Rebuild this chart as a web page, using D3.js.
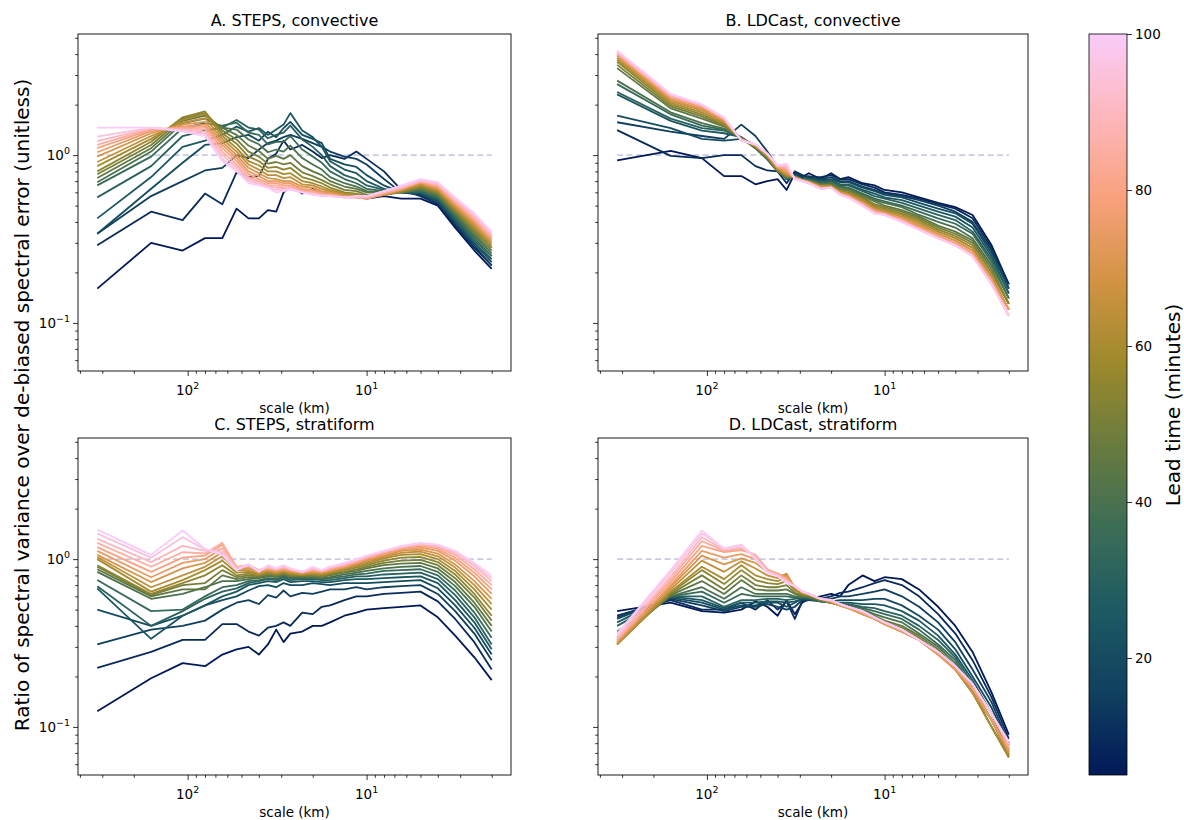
<!DOCTYPE html>
<html>
<head>
<meta charset="utf-8">
<script src="https://cdn.jsdelivr.net/npm/d3@7"></script>
<style>
  body { margin: 0; background: #fff; }
  svg { font-family: "DejaVu Sans", sans-serif; }
</style>
</head>
<body>
<div id="chart"></div>
<script>
// spatial scale (km) of each spectral bin
const scaleKm = [320, 160, 106.7, 80, 64, 53.3, 45.7, 40, 35.6, 32, 29.1, 26.7, 22.9, 20, 17.8, 16, 13.3, 11.4, 10, 8, 6.4, 5, 4, 3.2, 2.5, 2];

const leadTimes = [5, 10, 15, 20, 25, 30, 35, 40, 45, 50, 55, 60, 65, 70, 75, 80, 85, 90, 95, 100];

// one row per lead time, one value per scale
const stepsConvective = [
  [0.16,0.30,0.27,0.32,0.32,0.48,0.42,0.42,0.47,0.46,0.60,0.65,0.59,0.63,0.58,0.60,0.57,0.58,0.55,0.57,0.55,0.55,0.50,0.37,0.27,0.21],
  [0.29,0.46,0.41,0.59,0.51,0.79,0.74,0.75,0.95,1.02,1.22,1.08,1.15,1.05,0.96,1.00,0.95,1.05,0.95,0.80,0.62,0.57,0.51,0.38,0.28,0.22],
  [0.34,0.57,0.70,0.81,0.84,1.00,0.96,1.08,1.18,1.22,1.28,1.32,1.25,1.18,1.12,1.05,0.98,0.95,0.88,0.72,0.60,0.58,0.52,0.39,0.29,0.22],
  [0.34,0.63,0.90,1.15,1.18,1.28,1.32,1.22,1.38,1.28,1.45,1.58,1.32,1.25,1.18,0.95,0.88,0.85,0.76,0.66,0.60,0.59,0.53,0.40,0.30,0.23],
  [0.42,0.74,1.12,1.22,1.32,1.48,1.38,1.45,1.32,1.42,1.52,1.78,1.40,1.28,1.12,0.92,0.82,0.78,0.70,0.63,0.60,0.60,0.54,0.41,0.30,0.24],
  [0.56,0.86,1.30,1.40,1.46,1.62,1.46,1.42,1.26,1.32,1.36,1.50,1.24,1.12,1.00,0.86,0.76,0.72,0.66,0.62,0.60,0.60,0.55,0.42,0.31,0.25],
  [0.66,0.98,1.45,1.55,1.50,1.56,1.36,1.32,1.16,1.20,1.20,1.30,1.08,0.98,0.90,0.80,0.72,0.68,0.63,0.61,0.60,0.61,0.56,0.43,0.32,0.25],
  [0.69,1.05,1.55,1.65,1.46,1.42,1.24,1.16,1.04,1.08,1.05,1.14,0.96,0.88,0.82,0.74,0.68,0.65,0.61,0.60,0.60,0.62,0.57,0.44,0.33,0.26],
  [0.73,1.10,1.60,1.72,1.45,1.32,1.14,1.06,0.95,0.99,0.95,1.00,0.86,0.80,0.76,0.70,0.65,0.63,0.60,0.59,0.60,0.63,0.58,0.45,0.34,0.27],
  [0.77,1.15,1.65,1.78,1.40,1.24,1.05,0.98,0.89,0.91,0.88,0.90,0.79,0.75,0.71,0.67,0.62,0.61,0.58,0.58,0.60,0.64,0.59,0.46,0.35,0.28],
  [0.80,1.20,1.68,1.82,1.35,1.17,0.98,0.92,0.84,0.85,0.82,0.84,0.74,0.71,0.68,0.64,0.60,0.59,0.57,0.58,0.61,0.65,0.60,0.47,0.36,0.28],
  [0.86,1.25,1.62,1.76,1.30,1.10,0.92,0.87,0.80,0.80,0.77,0.78,0.70,0.68,0.65,0.62,0.59,0.58,0.56,0.58,0.61,0.66,0.61,0.48,0.37,0.29],
  [0.91,1.30,1.56,1.66,1.25,1.05,0.88,0.82,0.76,0.76,0.73,0.74,0.67,0.66,0.63,0.61,0.58,0.57,0.56,0.58,0.62,0.67,0.62,0.49,0.38,0.30],
  [0.98,1.35,1.52,1.58,1.20,1.00,0.84,0.78,0.73,0.72,0.70,0.70,0.65,0.64,0.61,0.60,0.57,0.56,0.55,0.58,0.62,0.68,0.63,0.50,0.39,0.31],
  [1.04,1.39,1.48,1.52,1.15,0.96,0.80,0.75,0.70,0.70,0.68,0.68,0.63,0.62,0.60,0.59,0.57,0.56,0.55,0.59,0.63,0.69,0.64,0.51,0.40,0.31],
  [1.10,1.42,1.46,1.48,1.10,0.92,0.77,0.72,0.68,0.68,0.66,0.66,0.62,0.61,0.59,0.58,0.56,0.56,0.55,0.59,0.63,0.69,0.65,0.52,0.41,0.32],
  [1.15,1.44,1.44,1.43,1.05,0.88,0.74,0.70,0.66,0.66,0.64,0.65,0.61,0.60,0.58,0.58,0.56,0.56,0.56,0.60,0.64,0.70,0.66,0.53,0.42,0.33],
  [1.21,1.45,1.42,1.38,1.00,0.85,0.72,0.68,0.65,0.64,0.63,0.64,0.60,0.59,0.58,0.57,0.56,0.56,0.56,0.60,0.64,0.70,0.67,0.54,0.43,0.33],
  [1.29,1.46,1.40,1.34,0.95,0.82,0.70,0.67,0.64,0.62,0.62,0.63,0.60,0.59,0.57,0.57,0.56,0.57,0.57,0.61,0.65,0.71,0.68,0.55,0.44,0.34],
  [1.46,1.46,1.38,1.30,0.92,0.80,0.68,0.66,0.64,0.60,0.61,0.62,0.60,0.58,0.57,0.57,0.56,0.57,0.57,0.61,0.66,0.72,0.69,0.56,0.45,0.35]
];

const ldcastConvective = [
  [0.93,1.06,0.96,0.75,0.75,0.67,0.70,0.72,0.62,0.78,0.74,0.78,0.72,0.78,0.72,0.74,0.68,0.66,0.62,0.60,0.56,0.52,0.49,0.44,0.29,0.17],
  [1.41,0.99,0.96,1.00,1.00,0.86,0.81,0.80,0.68,0.80,0.76,0.74,0.74,0.76,0.72,0.72,0.67,0.64,0.60,0.58,0.55,0.51,0.48,0.42,0.28,0.17],
  [1.57,1.38,1.30,1.25,1.52,1.30,1.05,0.85,0.75,0.78,0.74,0.75,0.72,0.74,0.70,0.70,0.65,0.62,0.59,0.57,0.54,0.50,0.46,0.40,0.27,0.16],
  [1.72,1.45,1.25,1.22,1.25,1.15,0.95,0.82,0.72,0.76,0.73,0.73,0.71,0.72,0.69,0.69,0.64,0.61,0.58,0.56,0.52,0.48,0.45,0.39,0.26,0.16],
  [2.30,1.60,1.40,1.35,1.28,1.12,0.95,0.82,0.72,0.75,0.72,0.72,0.70,0.71,0.67,0.67,0.62,0.59,0.56,0.54,0.50,0.46,0.43,0.37,0.25,0.15],
  [2.38,1.65,1.45,1.40,1.28,1.10,0.95,0.80,0.73,0.75,0.72,0.72,0.69,0.70,0.66,0.66,0.61,0.57,0.55,0.52,0.48,0.44,0.41,0.35,0.24,0.15],
  [2.65,1.75,1.50,1.42,1.27,1.10,0.94,0.80,0.73,0.75,0.72,0.71,0.68,0.69,0.65,0.64,0.59,0.55,0.53,0.50,0.46,0.42,0.39,0.34,0.23,0.14],
  [2.78,1.80,1.55,1.44,1.26,1.10,0.95,0.80,0.73,0.74,0.71,0.71,0.67,0.68,0.64,0.63,0.58,0.54,0.52,0.49,0.44,0.40,0.37,0.32,0.22,0.14],
  [3.30,1.90,1.65,1.48,1.26,1.12,0.96,0.81,0.74,0.74,0.71,0.70,0.67,0.67,0.63,0.62,0.57,0.53,0.50,0.47,0.43,0.38,0.35,0.31,0.21,0.13],
  [3.45,1.95,1.70,1.50,1.25,1.12,0.97,0.81,0.74,0.74,0.71,0.70,0.66,0.66,0.62,0.61,0.56,0.51,0.49,0.46,0.42,0.37,0.34,0.30,0.20,0.13],
  [3.60,2.00,1.75,1.52,1.25,1.13,0.98,0.82,0.75,0.74,0.71,0.70,0.66,0.66,0.61,0.60,0.55,0.50,0.48,0.45,0.41,0.36,0.33,0.29,0.20,0.13],
  [3.70,2.05,1.80,1.55,1.25,1.13,0.99,0.82,0.76,0.74,0.71,0.69,0.65,0.65,0.61,0.59,0.54,0.49,0.47,0.44,0.40,0.35,0.32,0.28,0.19,0.12],
  [3.80,2.10,1.85,1.58,1.24,1.14,1.00,0.83,0.77,0.74,0.71,0.69,0.65,0.65,0.60,0.58,0.53,0.48,0.46,0.43,0.39,0.34,0.31,0.27,0.19,0.12],
  [3.90,2.15,1.88,1.60,1.24,1.14,1.00,0.84,0.78,0.73,0.71,0.69,0.64,0.65,0.60,0.58,0.52,0.47,0.45,0.42,0.38,0.34,0.31,0.27,0.18,0.12],
  [3.95,2.20,1.92,1.62,1.24,1.15,1.01,0.85,0.80,0.73,0.71,0.69,0.64,0.64,0.59,0.57,0.52,0.47,0.45,0.42,0.37,0.33,0.30,0.26,0.18,0.12],
  [4.00,2.22,1.95,1.64,1.23,1.15,1.01,0.85,0.82,0.73,0.71,0.69,0.64,0.64,0.59,0.57,0.51,0.46,0.45,0.41,0.37,0.33,0.30,0.26,0.18,0.11],
  [4.05,2.25,1.97,1.65,1.23,1.16,1.01,0.86,0.84,0.73,0.70,0.68,0.63,0.64,0.59,0.56,0.51,0.46,0.44,0.41,0.36,0.32,0.29,0.25,0.17,0.11],
  [4.10,2.28,1.98,1.66,1.23,1.16,1.02,0.86,0.86,0.72,0.70,0.68,0.63,0.64,0.58,0.56,0.50,0.45,0.44,0.40,0.36,0.32,0.29,0.25,0.17,0.11],
  [4.15,2.30,2.00,1.67,1.22,1.16,1.02,0.87,0.87,0.72,0.70,0.68,0.63,0.64,0.58,0.56,0.50,0.45,0.44,0.40,0.36,0.32,0.29,0.25,0.17,0.11],
  [4.20,2.32,2.01,1.68,1.22,1.16,1.02,0.87,0.89,0.72,0.70,0.68,0.63,0.64,0.58,0.56,0.50,0.45,0.44,0.40,0.36,0.32,0.29,0.25,0.17,0.11]
];

const stepsStratiform = [
  [0.124,0.195,0.24,0.23,0.27,0.29,0.30,0.27,0.31,0.38,0.32,0.36,0.37,0.40,0.40,0.42,0.46,0.48,0.50,0.51,0.52,0.53,0.45,0.35,0.26,0.19],
  [0.225,0.28,0.33,0.33,0.41,0.41,0.37,0.35,0.39,0.40,0.42,0.40,0.48,0.47,0.52,0.53,0.57,0.60,0.60,0.62,0.63,0.64,0.56,0.44,0.32,0.22],
  [0.31,0.38,0.40,0.43,0.50,0.55,0.57,0.54,0.61,0.59,0.65,0.60,0.63,0.62,0.64,0.66,0.66,0.68,0.66,0.68,0.69,0.70,0.62,0.49,0.36,0.25],
  [0.50,0.40,0.46,0.53,0.57,0.60,0.65,0.69,0.70,0.68,0.72,0.70,0.70,0.72,0.71,0.70,0.72,0.72,0.72,0.73,0.74,0.75,0.67,0.53,0.39,0.27],
  [0.67,0.335,0.46,0.53,0.60,0.64,0.70,0.72,0.74,0.73,0.76,0.73,0.74,0.74,0.73,0.73,0.75,0.76,0.76,0.77,0.78,0.79,0.72,0.57,0.42,0.29],
  [0.69,0.40,0.49,0.58,0.64,0.67,0.72,0.74,0.76,0.75,0.78,0.75,0.76,0.76,0.75,0.75,0.77,0.79,0.79,0.81,0.82,0.83,0.76,0.61,0.45,0.31],
  [0.75,0.49,0.50,0.60,0.68,0.70,0.74,0.75,0.77,0.76,0.79,0.77,0.77,0.77,0.76,0.77,0.79,0.81,0.82,0.85,0.86,0.87,0.80,0.65,0.48,0.34],
  [0.84,0.58,0.62,0.68,0.74,0.74,0.76,0.77,0.79,0.78,0.80,0.78,0.78,0.78,0.77,0.78,0.81,0.83,0.85,0.88,0.90,0.91,0.84,0.69,0.52,0.37],
  [0.87,0.60,0.66,0.66,0.80,0.76,0.78,0.78,0.80,0.79,0.81,0.79,0.79,0.79,0.78,0.80,0.83,0.85,0.88,0.92,0.94,0.95,0.88,0.73,0.55,0.40],
  [0.90,0.61,0.70,0.72,0.86,0.78,0.80,0.79,0.82,0.80,0.82,0.80,0.80,0.80,0.79,0.81,0.84,0.87,0.90,0.95,0.98,0.99,0.92,0.77,0.59,0.43],
  [0.92,0.62,0.72,0.80,0.92,0.80,0.82,0.80,0.83,0.81,0.83,0.81,0.80,0.81,0.80,0.82,0.86,0.89,0.92,0.98,1.02,1.03,0.96,0.81,0.62,0.46],
  [1.00,0.64,0.75,0.86,0.98,0.83,0.84,0.81,0.84,0.82,0.84,0.82,0.81,0.82,0.81,0.83,0.87,0.91,0.94,1.01,1.06,1.07,1.00,0.85,0.66,0.50],
  [1.03,0.68,0.80,0.90,1.04,0.86,0.86,0.82,0.85,0.83,0.85,0.83,0.82,0.83,0.82,0.84,0.88,0.92,0.96,1.03,1.09,1.11,1.04,0.89,0.70,0.54],
  [1.06,0.73,0.88,0.95,1.10,0.88,0.88,0.84,0.86,0.84,0.86,0.84,0.82,0.84,0.83,0.85,0.89,0.94,0.98,1.05,1.12,1.14,1.08,0.93,0.74,0.58],
  [1.12,0.78,0.95,1.00,1.16,0.90,0.90,0.85,0.87,0.85,0.87,0.85,0.83,0.85,0.84,0.86,0.90,0.95,1.00,1.07,1.14,1.17,1.12,0.98,0.79,0.62],
  [1.18,0.84,1.02,1.05,1.22,0.90,0.91,0.86,0.88,0.86,0.88,0.86,0.83,0.86,0.84,0.87,0.91,0.96,1.01,1.08,1.16,1.20,1.15,1.02,0.83,0.66],
  [1.25,0.90,1.10,1.08,1.25,0.90,0.92,0.86,0.89,0.87,0.89,0.87,0.84,0.87,0.85,0.88,0.92,0.97,1.02,1.10,1.17,1.22,1.18,1.06,0.87,0.70],
  [1.32,0.96,1.20,1.12,1.15,0.88,0.93,0.86,0.90,0.87,0.90,0.87,0.84,0.88,0.85,0.89,0.93,0.98,1.03,1.11,1.18,1.23,1.20,1.09,0.91,0.74],
  [1.42,1.02,1.35,1.14,1.10,0.87,0.92,0.85,0.91,0.88,0.91,0.88,0.84,0.89,0.86,0.90,0.94,0.99,1.04,1.12,1.19,1.24,1.21,1.11,0.93,0.77],
  [1.50,1.06,1.48,1.15,1.06,0.86,0.93,0.84,0.92,0.88,0.92,0.88,0.84,0.90,0.86,0.90,0.95,1.00,1.05,1.12,1.20,1.25,1.22,1.12,0.95,0.80]
];

const ldcastStratiform = [
  [0.49,0.55,0.49,0.48,0.50,0.56,0.52,0.46,0.57,0.47,0.55,0.58,0.60,0.62,0.60,0.70,0.80,0.74,0.78,0.76,0.66,0.52,0.40,0.28,0.16,0.090],
  [0.46,0.57,0.50,0.50,0.55,0.50,0.57,0.50,0.56,0.44,0.56,0.57,0.58,0.60,0.63,0.64,0.68,0.72,0.75,0.70,0.60,0.47,0.36,0.25,0.15,0.085],
  [0.45,0.58,0.53,0.49,0.52,0.52,0.54,0.52,0.50,0.52,0.57,0.58,0.57,0.58,0.60,0.60,0.62,0.64,0.66,0.60,0.52,0.42,0.32,0.22,0.14,0.080],
  [0.44,0.59,0.55,0.50,0.53,0.53,0.55,0.55,0.52,0.55,0.58,0.57,0.56,0.56,0.57,0.57,0.57,0.58,0.58,0.53,0.46,0.38,0.29,0.20,0.13,0.078],
  [0.42,0.60,0.57,0.51,0.55,0.55,0.56,0.56,0.55,0.56,0.58,0.58,0.56,0.55,0.55,0.55,0.54,0.54,0.53,0.49,0.43,0.35,0.27,0.19,0.12,0.075],
  [0.40,0.60,0.60,0.52,0.57,0.57,0.58,0.58,0.57,0.58,0.59,0.58,0.56,0.55,0.54,0.54,0.52,0.51,0.49,0.46,0.40,0.33,0.26,0.18,0.12,0.073],
  [0.37,0.60,0.64,0.55,0.62,0.60,0.60,0.60,0.60,0.59,0.59,0.59,0.56,0.55,0.54,0.53,0.51,0.49,0.47,0.44,0.38,0.31,0.25,0.17,0.11,0.071],
  [0.34,0.60,0.68,0.58,0.68,0.62,0.62,0.62,0.62,0.60,0.60,0.59,0.57,0.55,0.53,0.52,0.50,0.47,0.45,0.42,0.36,0.30,0.24,0.17,0.11,0.069],
  [0.33,0.61,0.74,0.62,0.75,0.66,0.65,0.65,0.66,0.62,0.60,0.60,0.57,0.55,0.53,0.52,0.49,0.46,0.43,0.40,0.35,0.29,0.23,0.16,0.11,0.068],
  [0.32,0.62,0.80,0.66,0.80,0.70,0.68,0.68,0.70,0.63,0.61,0.60,0.57,0.55,0.53,0.51,0.48,0.45,0.42,0.39,0.34,0.28,0.22,0.16,0.10,0.066],
  [0.31,0.63,0.86,0.71,0.86,0.75,0.72,0.71,0.74,0.65,0.62,0.61,0.57,0.55,0.53,0.51,0.48,0.44,0.41,0.38,0.33,0.28,0.22,0.16,0.10,0.066],
  [0.31,0.64,0.90,0.76,0.92,0.80,0.76,0.74,0.78,0.66,0.62,0.61,0.58,0.55,0.53,0.51,0.47,0.44,0.41,0.37,0.33,0.27,0.22,0.16,0.10,0.067],
  [0.31,0.66,0.98,0.84,0.97,0.88,0.80,0.77,0.82,0.67,0.63,0.62,0.58,0.56,0.53,0.51,0.47,0.44,0.41,0.37,0.33,0.27,0.22,0.16,0.11,0.069],
  [0.32,0.68,1.05,0.93,1.01,0.95,0.84,0.80,0.80,0.68,0.64,0.62,0.58,0.56,0.53,0.51,0.47,0.44,0.41,0.37,0.33,0.27,0.22,0.17,0.11,0.071],
  [0.32,0.70,1.12,1.02,1.07,1.00,0.86,0.82,0.78,0.68,0.64,0.62,0.58,0.56,0.53,0.51,0.48,0.44,0.41,0.37,0.33,0.27,0.22,0.17,0.11,0.073],
  [0.33,0.73,1.20,1.10,1.13,1.06,0.87,0.82,0.76,0.69,0.64,0.62,0.58,0.56,0.54,0.52,0.48,0.44,0.42,0.38,0.33,0.28,0.23,0.17,0.12,0.075],
  [0.33,0.76,1.28,1.12,1.16,1.05,0.86,0.81,0.75,0.69,0.64,0.62,0.58,0.57,0.54,0.52,0.48,0.45,0.42,0.38,0.33,0.28,0.23,0.18,0.12,0.077],
  [0.34,0.79,1.35,1.14,1.19,1.03,0.85,0.80,0.74,0.69,0.64,0.62,0.58,0.57,0.54,0.52,0.49,0.45,0.42,0.38,0.33,0.28,0.23,0.18,0.12,0.079],
  [0.35,0.83,1.42,1.16,1.22,1.02,0.84,0.80,0.73,0.69,0.64,0.62,0.58,0.57,0.54,0.52,0.49,0.45,0.42,0.38,0.33,0.28,0.23,0.18,0.12,0.081],
  [0.36,0.86,1.48,1.15,1.20,1.00,0.83,0.79,0.72,0.69,0.64,0.62,0.58,0.57,0.54,0.52,0.49,0.45,0.42,0.38,0.33,0.28,0.23,0.18,0.12,0.082]
];

const xTickLabels = [{ v: 100, base: '10', exp: '2' }, { v: 10, base: '10', exp: '1' }];
const yTickLabels = [{ v: 1, base: '10', exp: '0' }, { v: 0.1, base: '10', exp: '\u22121' }];
const colorbarTicks = [20, 40, 60, 80, 100];

// batlow colour map stops
const batlow = ['#011959', '#10405f', '#1c5a62', '#3c6d56', '#687b3e', '#9d892b', '#d29343', '#f8a17b', '#fdb7bc', '#faccfa'];

const width = 1184;
const height = 820;
const xDomain = [410, 1.56];
const yDomain = [0.0517, 5.27];
const leadExtent = [5, 100];

const color = d3.scaleLinear()
    .domain(batlow.map((c, i) => leadExtent[0] + (leadExtent[1] - leadExtent[0]) * i / (batlow.length - 1)))
    .range(batlow);

const svg = d3.select('#chart')
    .append('svg')
    .attr('width', width)
    .attr('height', height);

svg.append('rect').attr('width', width).attr('height', height).attr('fill', '#fff');

const panels = [
    { title: 'A. STEPS, convective', data: stepsConvective, left: 78, right: 511, top: 34, bottom: 371, yLabels: true },
    { title: 'B. LDCast, convective', data: ldcastConvective, left: 598, right: 1028, top: 34, bottom: 371, yLabels: false },
    { title: 'C. STEPS, stratiform', data: stepsStratiform, left: 78, right: 511, top: 438, bottom: 775, yLabels: true },
    { title: 'D. LDCast, stratiform', data: ldcastStratiform, left: 598, right: 1028, top: 438, bottom: 775, yLabels: false }
];

const minorX = [2, 3, 4, 5, 6, 7, 8, 9, 20, 30, 40, 50, 60, 70, 80, 90, 200, 300, 400];
const minorY = [0.06, 0.07, 0.08, 0.09, 0.2, 0.3, 0.4, 0.5, 0.6, 0.7, 0.8, 0.9, 2, 3, 4, 5];

const powerLabel = (sel, d) => {
    sel.append('tspan').text(d.base);
    sel.append('tspan').attr('dy', -6).attr('font-size', 9.5).text(d.exp);
};

panels.forEach(p => {
    const x = d3.scaleLog().domain(xDomain).range([p.left, p.right]);
    const y = d3.scaleLog().domain(yDomain).range([p.bottom, p.top]);
    const g = svg.append('g');

    // reference ratio of one
    g.append('line')
        .attr('x1', x(scaleKm[0]))
        .attr('x2', x(scaleKm[scaleKm.length - 1]))
        .attr('y1', y(1))
        .attr('y2', y(1))
        .attr('stroke', '#c9cce0')
        .attr('stroke-width', 1.6)
        .attr('stroke-dasharray', '6,3.5');

    const line = d3.line()
        .x((d, i) => x(scaleKm[i]))
        .y(d => y(d));

    g.selectAll('path.series')
        .data(p.data)
        .enter()
        .append('path')
        .attr('class', 'series')
        .attr('fill', 'none')
        .attr('stroke', (d, i) => color(leadTimes[i]))
        .attr('stroke-width', 1.8)
        .attr('stroke-linejoin', 'round')
        .attr('d', line);

    g.append('rect')
        .attr('x', p.left)
        .attr('y', p.top)
        .attr('width', p.right - p.left)
        .attr('height', p.bottom - p.top)
        .attr('fill', 'none')
        .attr('stroke', '#000')
        .attr('stroke-width', 0.9);

    // x axis ticks
    const xMajor = g.append('g')
        .attr('transform', `translate(0, ${p.bottom})`)
        .call(d3.axisBottom(x).tickValues(xTickLabels.map(d => d.v)).tickSize(5).tickFormat(''));
    const xMinor = g.append('g')
        .attr('transform', `translate(0, ${p.bottom})`)
        .call(d3.axisBottom(x).tickValues(minorX).tickSize(2.8).tickFormat(''));
    // y axis ticks
    const yMajor = g.append('g')
        .attr('transform', `translate(${p.left}, 0)`)
        .call(d3.axisLeft(y).tickValues(yTickLabels.map(d => d.v)).tickSize(5).tickFormat(''));
    const yMinor = g.append('g')
        .attr('transform', `translate(${p.left}, 0)`)
        .call(d3.axisLeft(y).tickValues(minorY).tickSize(2.8).tickFormat(''));
    [xMajor, xMinor, yMajor, yMinor].forEach(a => {
        a.select('.domain').remove();
        a.selectAll('line').attr('stroke', '#000').attr('stroke-width', 0.8);
    });

    xTickLabels.forEach(d => {
        g.append('text')
            .attr('x', x(d.v))
            .attr('y', p.bottom + 24)
            .attr('text-anchor', 'middle')
            .attr('font-size', 13.5)
            .call(powerLabel, d);
    });
    if (p.yLabels) {
        yTickLabels.forEach(d => {
            g.append('text')
                .attr('x', p.left - 8)
                .attr('y', y(d.v) + 5)
                .attr('text-anchor', 'end')
                .attr('font-size', 13.5)
                .call(powerLabel, d);
        });
    }

    g.append('text')
        .attr('x', (p.left + p.right) / 2)
        .attr('y', p.bottom + 42)
        .attr('text-anchor', 'middle')
        .attr('font-size', 13.5)
        .text('scale (km)');

    g.append('text')
        .attr('x', (p.left + p.right) / 2)
        .attr('y', p.top - 8)
        .attr('text-anchor', 'middle')
        .attr('font-size', 16)
        .text(p.title);
});

// shared y label
svg.append('text')
    .attr('transform', 'translate(29, 405) rotate(-90)')
    .attr('text-anchor', 'middle')
    .attr('font-size', 20)
    .text('Ratio of spectral variance over de-biased spectral error (unitless)');

// colour bar
const cb = { left: 1089, right: 1127, top: 34, bottom: 775 };
const cbScale = d3.scaleLinear().domain(leadExtent).range([cb.bottom, cb.top]);
const grad = svg.append('defs').append('linearGradient')
    .attr('id', 'leadGradient')
    .attr('x1', 0).attr('y1', 1).attr('x2', 0).attr('y2', 0);
grad.selectAll('stop')
    .data(batlow)
    .enter()
    .append('stop')
    .attr('offset', (d, i) => i / (batlow.length - 1))
    .attr('stop-color', d => d);
svg.append('rect')
    .attr('x', cb.left)
    .attr('y', cb.top)
    .attr('width', cb.right - cb.left)
    .attr('height', cb.bottom - cb.top)
    .attr('fill', 'url(#leadGradient)')
    .attr('stroke', '#000')
    .attr('stroke-width', 0.8);
const cbAxis = svg.append('g')
    .attr('transform', `translate(${cb.right}, 0)`)
    .call(d3.axisRight(cbScale).tickValues(colorbarTicks).tickSize(5).tickPadding(3));
cbAxis.select('.domain').remove();
cbAxis.selectAll('line').attr('stroke', '#000').attr('stroke-width', 0.8);
cbAxis.selectAll('text')
    .attr('font-size', 13.5)
    .attr('font-family', '"DejaVu Sans", sans-serif')
    .attr('fill', '#000');

svg.append('text')
    .attr('transform', 'translate(1180, 405) rotate(-90)')
    .attr('text-anchor', 'middle')
    .attr('font-size', 20)
    .text('Lead time (minutes)');
</script>
</body>
</html>
